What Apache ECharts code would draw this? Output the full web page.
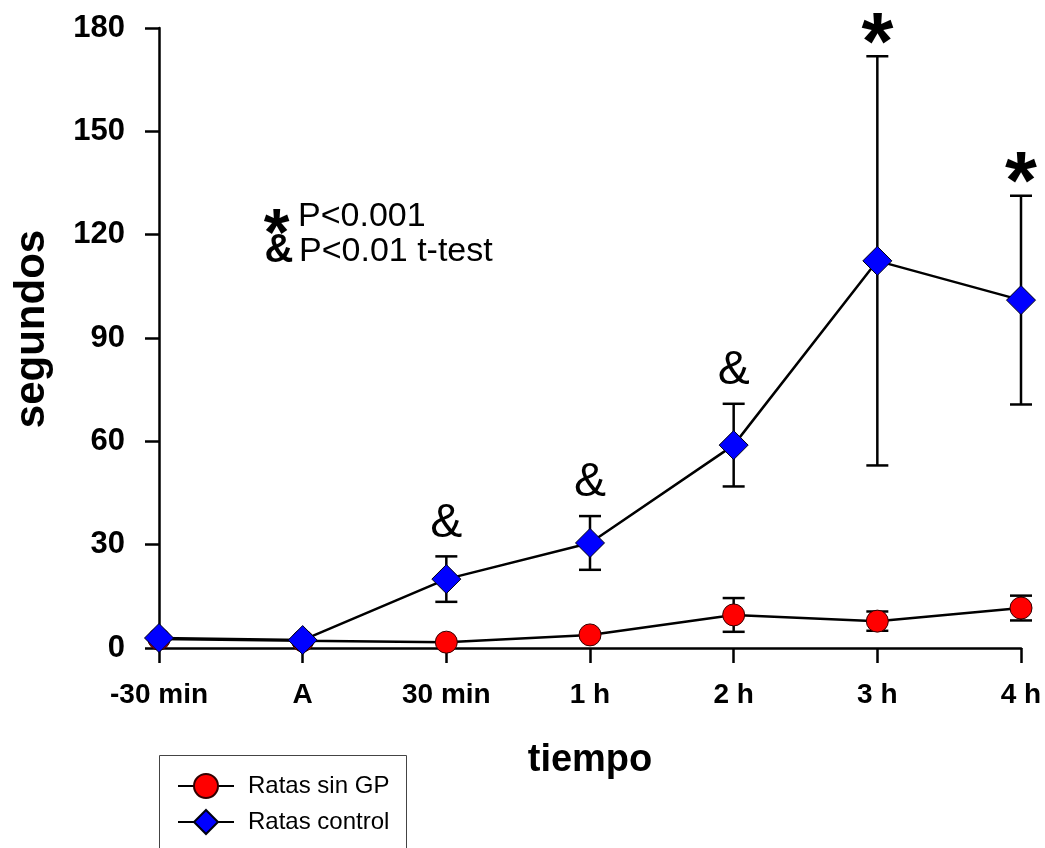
<!DOCTYPE html>
<html><head><meta charset="utf-8">
<script src="https://cdn.jsdelivr.net/npm/echarts@6/dist/echarts.min.js"></script>
<style>html,body{margin:0;padding:0;background:#fff}#c{width:1045px;height:848px}</style>
</head><body><div id="c"></div>
<script>
const categories = ['-30 min', 'A', '30 min', '1 h', '2 h', '3 h', '4 h'];
const sinGP = [2.6, 2.1, 1.7, 3.8, 9.6, 7.8, 11.6];
const sinGPErr = [0, 0, 0, 0, 4.9, 2.8, 3.6];
const control = [2.9, 2.3, 20.0, 30.5, 58.9, 112.4, 101.0];
const controlErr = [0, 0, 6.6, 7.8, 12.0, 59.4, 30.3];
const marks = ['', '', '&', '&', '&', '*', '*'];
const yMin = 0, yMax = 180, yStep = 30;

const FONT = '"Liberation Sans", Arial, sans-serif';

function errRender(params, api) {
  const i = api.value(0), m = api.value(1), e = api.value(2);
  if (!(e > 0)) return { type: 'group', children: [] };
  const top = api.coord([i, m + e]), bot = api.coord([i, m - e]);
  const hw = 11;
  const st = { stroke: '#000', lineWidth: 2.5 };
  return { type: 'group', children: [
    { type: 'line', shape: { x1: top[0], y1: top[1], x2: bot[0], y2: bot[1] }, style: st },
    { type: 'line', shape: { x1: top[0] - hw, y1: top[1], x2: top[0] + hw, y2: top[1] }, style: st },
    { type: 'line', shape: { x1: bot[0] - hw, y1: bot[1], x2: bot[0] + hw, y2: bot[1] }, style: st }
  ]};
}

function markRender(params, api) {
  const s = marks[params.dataIndex];
  if (!s) return { type: 'group', children: [] };
  const p = api.coord([api.value(0), api.value(1)]);
  if (s === '&') {
    return { type: 'text', style: { text: '&', x: p[0], y: p[1] - 33, fontSize: 48, fontFamily: FONT,
      fill: '#000', align: 'center', verticalAlign: 'middle' } };
  }
  return { type: 'text', style: { text: '*', x: p[0], y: p[1] - 10, fontSize: 82, fontWeight: 'bold', fontFamily: FONT,
    fill: '#000', align: 'center', verticalAlign: 'middle' } };
}

const chart = echarts.init(document.getElementById('c'), null, { renderer: 'canvas' });
chart.setOption({
  backgroundColor: '#fff',
  animation: false,
  grid: { left: 159, right: 24, top: 28, bottom: 200, containLabel: false },
  xAxis: {
    type: 'category', data: categories, boundaryGap: false,
    axisLine: { lineStyle: { color: '#000', width: 2.5 } },
    axisTick: { show: true, inside: false, length: 15, lineStyle: { color: '#000', width: 2.5 } },
    axisLabel: { color: '#000', fontSize: 28, fontWeight: 'bold', fontFamily: FONT, margin: 33 },
    splitLine: { show: false }
  },
  yAxis: {
    type: 'value', min: yMin, max: yMax, interval: yStep,
    axisLine: { show: true, lineStyle: { color: '#000', width: 2.5 } },
    axisTick: { show: true, inside: false, length: 14, lineStyle: { color: '#000', width: 2.5 } },
    axisLabel: { color: '#000', fontSize: 31, fontWeight: 'bold', fontFamily: FONT, margin: 34 },
    splitLine: { show: false }
  },
  legend: {
    orient: 'vertical', left: 159, top: 755,
    data: ['Ratas sin GP', 'Ratas control'],
    itemWidth: 56, itemHeight: 30, itemGap: 10,
    padding: [18, 19, 0, 18],
    textStyle: { fontSize: 24, color: '#000', fontFamily: FONT, padding: [0, 0, 0, 9] }
  },
  series: [
    { type: 'custom', name: 'errSin', z: 1, renderItem: errRender,
      data: categories.map((c, i) => [i, sinGP[i], sinGPErr[i]]) },
    { type: 'custom', name: 'errCtrl', z: 1, renderItem: errRender,
      data: categories.map((c, i) => [i, control[i], controlErr[i]]) },
    { type: 'line', name: 'Ratas sin GP', z: 3, data: sinGP, symbol: 'circle', symbolSize: 22,
      lineStyle: { color: '#000', width: 2.5 },
      itemStyle: { color: '#ff0000', borderColor: '#300', borderWidth: 1 } },
    { type: 'line', name: 'Ratas control', z: 4, data: control, symbol: 'diamond', symbolSize: 29,
      lineStyle: { color: '#000', width: 2.5 },
      itemStyle: { color: '#0000ff', borderColor: '#001', borderWidth: 1 } },
    { type: 'custom', name: 'marks', z: 5, renderItem: markRender,
      data: categories.map((c, i) => [i, control[i] + controlErr[i]]) }
  ],
  graphic: [
    { type: 'rect', shape: { x: 159.5, y: 755.5, width: 247, height: 110 },
      style: { fill: null, stroke: '#444', lineWidth: 1 } },
    { type: 'text', x: 32, y: 329, rotation: Math.PI / 2,
      style: { text: 'segundos', fontSize: 42, fontWeight: 'bold', fontFamily: FONT, fill: '#000', align: 'center', verticalAlign: 'middle' } },
    { type: 'text', x: 590, y: 761,
      style: { text: 'tiempo', fontSize: 38, fontWeight: 'bold', fontFamily: FONT, fill: '#000', align: 'center', verticalAlign: 'middle' } },
    { type: 'text', x: 276.5, y: 237,
      style: { text: '*', fontSize: 66, fontWeight: 'bold', fontFamily: FONT, fill: '#000', align: 'center', verticalAlign: 'middle' } },
    { type: 'text', x: 298, y: 216.5,
      style: { text: 'P<0.001', fontSize: 34, fontFamily: FONT, fill: '#000', align: 'left', verticalAlign: 'middle' } },
    { type: 'text', x: 279, y: 251,
      style: { text: '&', fontSize: 40, fontWeight: 'bold', fontFamily: FONT, fill: '#000', align: 'center', verticalAlign: 'middle' } },
    { type: 'text', x: 299, y: 252,
      style: { text: 'P<0.01 t-test', fontSize: 34, fontFamily: FONT, fill: '#000', align: 'left', verticalAlign: 'middle' } }
  ]
});
</script>
</body></html>
